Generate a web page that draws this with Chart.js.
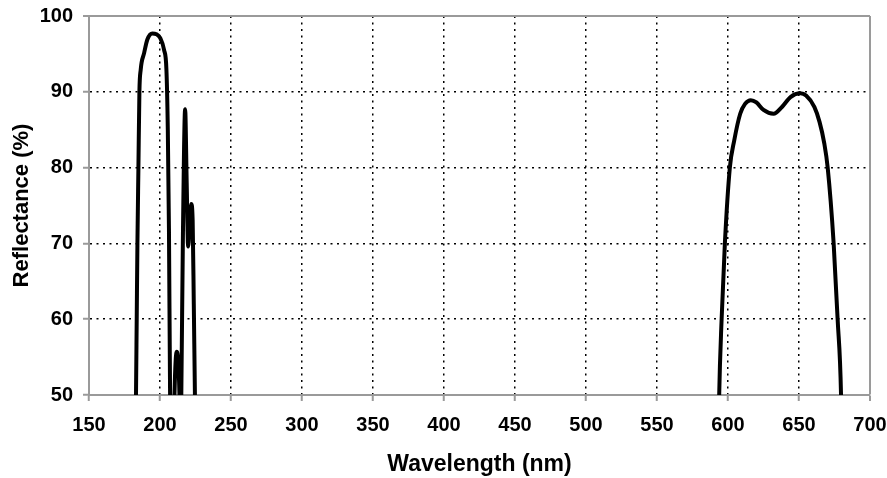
<!DOCTYPE html>
<html>
<head>
<meta charset="utf-8">
<title>Reflectance</title>
<script src="https://cdn.jsdelivr.net/npm/chart.js@4/dist/chart.umd.min.js"></script>
<style>
  body { margin: 0; background: #fff; }
  #wrap { width: 887px; height: 478px; position: relative; }
</style>
</head>
<body>
<div id="wrap"><canvas id="chart"></canvas></div>
<script>
// UV band (nm / %), values under 50 run off the bottom of the plot
var uvWavelength = [182.8, 183.1, 183.6, 184.1, 184.8, 185.5, 186.4, 188.8, 191.1, 194.6, 197.5, 200.1, 202.9, 204.5, 205.5, 206.3, 207.1, 207.5,
                    209.8, 210.2, 211.8, 213.7, 214.1,
                    214.6, 215.0, 216.2, 217.7, 218.8, 219.8, 221.0, 222.0, 223.0, 223.8, 224.6, 225.0];
var uvReflectance = [45, 50, 60, 70, 80, 90, 92.9, 95.1, 96.9, 97.7, 97.6, 97.1, 95.5, 93, 85, 72, 50, 45,
                     45, 50, 55.7, 50, 45,
                     45, 50, 72, 87.7, 78, 69.6, 72.5, 75.2, 73, 62, 50, 45];

// visible band
var visWavelength = [593.4, 593.8, 595.5, 597.8, 601.3, 604.4, 608.6, 612.0, 616.1, 620.0, 625.0, 632.1, 638.0, 644.0, 650.9, 655.0, 660.8, 664.5, 667.8, 670.2, 674.4, 677.2, 679.6, 680.0];
var visReflectance = [45, 50, 60, 70, 80, 83.6, 87.1, 88.4, 88.9, 88.6, 87.6, 87.1, 88.0, 89.3, 89.8, 89.5, 88.0, 86.0, 83.2, 80, 70, 60, 50, 45];

// axes
var xTicks = [150, 200, 250, 300, 350, 400, 450, 500, 550, 600, 650, 700];
var yTicks = [50, 60, 70, 80, 90, 100];

function toPoints(xs, ys) {
    var pts = [];
    for (var i = 0; i < xs.length; i++) {
        pts.push({ x: xs[i], y: ys[i] });
    }
    return pts;
}

var frameColor = '#9a9a9a';
var font = "'Liberation Sans', Arial, Helvetica, sans-serif";

function lineStyle(data) {
    return {
        data: data,
        borderColor: '#000',
        borderWidth: 4,
        pointRadius: 0,
        cubicInterpolationMode: 'monotone',
        clip: 0
    };
}

// grid: dotted inside, solid grey at the outer frame
function gridColor(edgeLow, edgeHigh) {
    return function (ctx) {
        if (!ctx.tick) return '#000';
        if (ctx.tick.value === edgeLow) return 'rgba(0,0,0,0)';
        if (ctx.tick.value === edgeHigh) return frameColor;
        return '#000';
    };
}
function gridWidth(edgeHigh) {
    return function (ctx) {
        return ctx.tick && ctx.tick.value === edgeHigh ? 2 : 1.5;
    };
}
function gridDash(edgeHigh) {
    return function (ctx) {
        return ctx.tick && ctx.tick.value === edgeHigh ? [] : [2, 4.5];
    };
}

new Chart(document.getElementById('chart'), {
    type: 'line',
    data: {
        datasets: [
            lineStyle(toPoints(uvWavelength, uvReflectance)),
            lineStyle(toPoints(visWavelength, visReflectance))
        ]
    },
    options: {
        responsive: true,
        maintainAspectRatio: false,
        animation: false,
        layout: { padding: { top: 16, right: 17, left: 0, bottom: 0 } },
        plugins: {
            legend: { display: false },
            tooltip: { enabled: false }
        },
        scales: {
            x: {
                type: 'linear',
                min: 150,
                max: 700,
                afterBuildTicks: function (scale) {
                    scale.ticks = xTicks.map(function (v) { return { value: v }; });
                },
                afterFit: function (scale) {
                    scale.height = 83;
                    scale.paddingLeft = 0;
                    scale.paddingRight = 0;
                },
                ticks: {
                    color: '#000',
                    padding: 12,
                    font: { family: font, size: 20, weight: 'bold' }
                },
                grid: {
                    color: gridColor(150, 700),
                    lineWidth: gridWidth(700),
                    tickColor: frameColor,
                    tickWidth: 2,
                    tickLength: 6
                },
                border: { color: frameColor, width: 2, dash: gridDash(700) },
                title: {
                    display: true,
                    text: 'Wavelength (nm)',
                    color: '#000',
                    padding: { top: 0, bottom: 0 },
                    font: { family: font, size: 23, weight: 'bold' }
                }
            },
            y: {
                min: 50,
                max: 100,
                afterBuildTicks: function (scale) {
                    scale.ticks = yTicks.map(function (v) { return { value: v }; });
                },
                afterFit: function (scale) {
                    scale.width = 89;
                    scale.paddingTop = 0;
                    scale.paddingBottom = 0;
                },
                ticks: {
                    color: '#000',
                    padding: 10,
                    font: { family: font, size: 20, weight: 'bold' }
                },
                grid: {
                    color: gridColor(50, 100),
                    lineWidth: gridWidth(100),
                    tickColor: frameColor,
                    tickWidth: 2,
                    tickLength: 6
                },
                border: { color: frameColor, width: 2, dash: gridDash(100) },
                title: {
                    display: true,
                    text: 'Reflectance (%)',
                    color: '#000',
                    padding: { top: 9, bottom: 0 },
                    font: { family: font, size: 22, weight: 'bold' }
                }
            }
        }
    }
});
</script>
</body>
</html>
